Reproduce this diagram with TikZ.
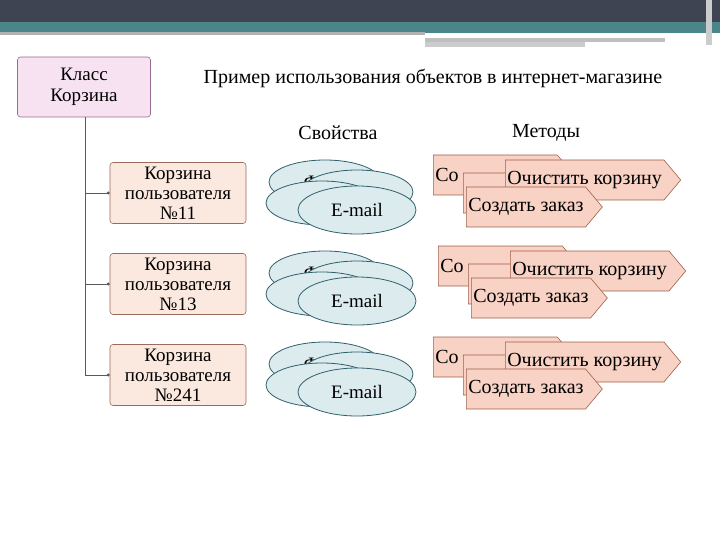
\documentclass[tikz,border=0pt]{standalone}
\usepackage{fontspec}
\setmainfont{Liberation Serif}
\usetikzlibrary{shapes.symbols,shapes.geometric,arrows.meta}
\definecolor{dark}{HTML}{3F4452}
\definecolor{teal}{HTML}{4A858A}
\definecolor{elf}{HTML}{DCEBEE}
\definecolor{eld}{HTML}{2F5F6A}
\definecolor{arf}{HTML}{F8D2C4}
\definecolor{ard}{HTML}{A0604A}
\definecolor{rowf}{HTML}{FBE8DF}
\definecolor{rowd}{HTML}{9A6A5A}
\definecolor{clsf}{HTML}{F7E2F2}
\definecolor{clsd}{HTML}{9A6A90}
\tikzset{
 ell/.style={ellipse,draw=eld,fill=elf,line width=0.8pt,minimum width=#1,minimum height=44pt,inner sep=0pt,font=\fontsize{19}{19}\selectfont},
 ell/.default=112pt,
 arr/.style={signal,signal to=east,draw=ard,fill=arf,line width=0.6pt,minimum height=40pt,inner sep=2pt,signal pointer angle=100,font=\fontsize{20}{20}\selectfont,anchor=west},
 rowbox/.style={draw=rowd,fill=rowf,rounded corners=3pt,line width=0.6pt,minimum width=136pt,minimum height=61pt,inner sep=1pt,align=center,font=\fontsize{19}{20}\selectfont},
 conn/.style={draw=gray!70!black,line width=0.8pt},
 lbl/.style={font=\fontsize{20}{20}\selectfont}
}
\begin{document}
\begin{tikzpicture}[x=1pt,y=-1pt]
\useasboundingbox (0,0) rectangle (720,540);
\fill[dark] (0,0) rectangle (720,22);
\fill[teal] (0,22) rectangle (720,33);
\fill[gray!60] (0,32) rectangle (425,35);
\fill[gray!50] (425,38) rectangle (665,42);
\fill[gray!40] (425,42) rectangle (585,47);
\fill[gray!40] (706,0) rectangle (712,45);
\node[draw=clsd,fill=clsf,rounded corners=3pt,line width=0.6pt,minimum width=133pt,minimum height=60pt,align=center,font=\fontsize{19}{21}\selectfont] (cls) at (84,87) {Класс\\Корзина};
\node[lbl] (title) at (433,78) {Пример использования объектов в интернет-магазине};
\node[lbl] (props) at (338,133) {Свойства};
\node[lbl] (meth) at (546,133) {Методы};
\coordinate (trunk) at (85,375);
\draw[conn] (cls.south -| trunk) -- (trunk);
\foreach \i/\y/\n/\dx in {1/193/11/0,2/284/13/5,3/375/241/0}{
 \node[rowbox] (r\i) at (178,\y) {Корзина\\пользователя\\№\n};
 \coordinate (b\i) at (85,\y);
 \draw[conn,-{Circle[length=3pt]}] (b\i) -- (r\i.west);
 \node[ell] (ea\i) at (325,\y-11) {ФИО};
 \node[ell] (eb\i) at (357,\y-1) {};
 \node[ell] (ec\i) at (322,\y+10) {Л};
 \node[ell=118pt,minimum height=48pt] (ed\i) at (357,\y+17) {E-mail};
 \node[arr,minimum width=132pt,text width=120pt] (ma\i) at (433+\dx,\y-18) {Со};
 \node[arr,minimum width=120pt] (mb\i) at (463+\dx,\y) {};
 \node[arr] (mc\i) at (505+\dx,\y-13) {Очистить корзину};
 \node[arr] (md\i) at (466+\dx,\y+14) {Создать заказ};
}
\end{tikzpicture}
\end{document}
